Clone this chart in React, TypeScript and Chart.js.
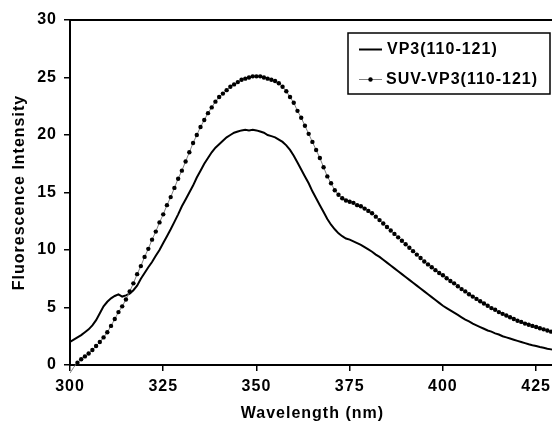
import React, { useEffect, useRef } from "react";
import { Chart, registerables } from "chart.js";

Chart.register(...registerables);

const WAVELENGTH_START = 300;

const vp3 = [
  2.0, 2.2, 2.4, 2.6, 2.85, 3.1, 3.45, 3.9, 4.5, 5.1,
  5.5, 5.8, 6.0, 6.15, 5.95, 6.05, 6.2, 6.5, 6.9, 7.5,
  8.0, 8.5, 8.95, 9.5, 10.0, 10.6, 11.2, 11.8, 12.45, 13.1,
  13.8, 14.4, 15.0, 15.6, 16.3, 16.9, 17.5, 18.0, 18.5, 18.9,
  19.2, 19.5, 19.8, 20.0, 20.2, 20.3, 20.4, 20.45, 20.4, 20.45,
  20.4, 20.3, 20.2, 20.0, 19.9, 19.8, 19.6, 19.4, 19.1, 18.7,
  18.2, 17.6, 17.0, 16.4, 15.8, 15.1, 14.5, 13.9, 13.3, 12.7,
  12.2, 11.8, 11.45, 11.2, 11.0, 10.9, 10.75, 10.6, 10.45, 10.25,
  10.05, 9.85, 9.6, 9.4, 9.15, 8.9, 8.65, 8.4, 8.15, 7.9,
  7.65, 7.4, 7.15, 6.9, 6.65, 6.4, 6.15, 5.9, 5.65, 5.4,
  5.15, 4.95, 4.75, 4.55, 4.35, 4.15, 3.95, 3.8, 3.6, 3.45,
  3.3, 3.15, 3.0, 2.9, 2.75, 2.65, 2.5, 2.4, 2.3, 2.2,
  2.1, 2.0, 1.9, 1.8, 1.72, 1.65, 1.57, 1.5, 1.42, 1.36,
  1.3,
];

const suvVp3 = [
  -0.7, -0.2, 0.2, 0.5, 0.75, 1.0, 1.3, 1.65, 2.0, 2.4,
  2.85, 3.4, 4.0, 4.6, 5.1, 5.7, 6.4, 7.1, 7.9, 8.6,
  9.4, 10.1, 10.9, 11.6, 12.4, 13.1, 13.9, 14.6, 15.4, 16.2,
  16.9, 17.7, 18.5, 19.3, 20.0, 20.7, 21.3, 21.9, 22.4, 22.9,
  23.3, 23.6, 23.9, 24.2, 24.4, 24.6, 24.8, 24.9, 25.0, 25.1,
  25.1, 25.1, 25.0, 24.9, 24.8, 24.7, 24.5, 24.2, 23.8, 23.3,
  22.8, 22.1, 21.5, 20.8, 20.1, 19.4, 18.7, 18.0, 17.2, 16.4,
  15.8, 15.2, 14.8, 14.5, 14.3, 14.2, 14.1, 13.9, 13.8, 13.6,
  13.4, 13.2, 12.9, 12.6, 12.3, 12.0, 11.7, 11.4, 11.1, 10.8,
  10.5, 10.2, 9.9, 9.6, 9.3, 9.0, 8.75, 8.5, 8.25, 8.0,
  7.8, 7.55, 7.3, 7.1, 6.85, 6.6, 6.4, 6.15, 5.95, 5.75,
  5.55, 5.35, 5.15, 4.95, 4.8, 4.6, 4.45, 4.3, 4.15, 4.0,
  3.85, 3.75, 3.6, 3.5, 3.4, 3.3, 3.2, 3.1, 3.0, 2.9,
  2.8,
];

const seriesNames = ["VP3(110-121)", "SUV-VP3(110-121)"];
const xTicks = [300, 325, 350, 375, 400, 425];
const yTicks = [0, 5, 10, 15, 20, 25, 30];
const X_MIN = 300;
const X_MAX = 430;
const Y_MIN = 0;
const Y_MAX = 30;
const xTitle = "Wavelength (nm)";
const yTitle = "Fluorescence Intensity";

const FONT = "'Liberation Sans', Arial, Helvetica, sans-serif";
const SPACING = "1px";

const toPoints = (arr: number[]) =>
  arr.map((v, i) => ({ x: WAVELENGTH_START + i, y: v }));

const spacingPlugin = {
  id: "spacingPlugin",
  beforeLayout(chart: any) {
    chart.ctx.letterSpacing = SPACING;
  },
  beforeDraw(chart: any) {
    chart.ctx.letterSpacing = SPACING;
  },
};

const framePlugin = {
  id: "framePlugin",
  afterDraw(chart: any) {
    const { ctx, chartArea } = chart;
    ctx.save();
    ctx.strokeStyle = "#000";
    ctx.lineWidth = 2;
    ctx.beginPath();
    ctx.moveTo(chartArea.left - 1, chartArea.top);
    ctx.lineTo(chartArea.right + 2, chartArea.top);
    ctx.stroke();
    ctx.restore();

    // legend box
    ctx.save();
    ctx.letterSpacing = SPACING;
    const bx = 348, by = 33, bw = 202, bh = 61;
    ctx.fillStyle = "#fff";
    ctx.fillRect(bx, by, bw, bh);
    ctx.strokeStyle = "#000";
    ctx.lineWidth = 1.5;
    ctx.strokeRect(bx, by, bw, bh);

    // row 1
    ctx.strokeStyle = "#000";
    ctx.lineWidth = 2;
    ctx.beginPath();
    ctx.moveTo(359, 49.5);
    ctx.lineTo(382, 49.5);
    ctx.stroke();
    // row 2
    ctx.strokeStyle = "#808080";
    ctx.lineWidth = 1;
    ctx.beginPath();
    ctx.moveTo(359, 79.5);
    ctx.lineTo(382, 79.5);
    ctx.stroke();
    ctx.fillStyle = "#000";
    ctx.beginPath();
    ctx.arc(370.5, 79.5, 2.2, 0, Math.PI * 2);
    ctx.fill();

    ctx.font = `bold 16px ${FONT}`;
    ctx.textBaseline = "middle";
    ctx.textAlign = "left";
    ctx.fillStyle = "#000";
    ctx.fillText(seriesNames[0], 387, 50);
    ctx.fillText(seriesNames[1], 386, 80);
    ctx.restore();
  },
};

export default function App() {
  const canvasRef = useRef<HTMLCanvasElement | null>(null);

  useEffect(() => {
    const canvas = canvasRef.current;
    if (!canvas) return;
    const chart = new Chart(canvas, {
      type: "line",
      data: {
        datasets: [
          {
            label: seriesNames[1],
            data: toPoints(suvVp3),
            borderColor: "#808080",
            borderWidth: 1,
            pointRadius: (c: any) => (c.raw && c.raw.y < 0 ? 0 : 2.2),
            pointBackgroundColor: "#000",
            pointBorderWidth: 0,
            pointHoverRadius: 0,
            tension: 0,
            clip: { left: 0, top: 0, right: 0, bottom: 10 } as any,
          },
          {
            label: seriesNames[0],
            data: toPoints(vp3),
            borderColor: "#000",
            borderWidth: 2,
            pointRadius: 0,
            tension: 0,
          },
        ],
      },
      options: {
        animation: false,
        responsive: false,
        maintainAspectRatio: false,
        events: [],
        layout: { padding: { top: 20, left: 0, right: 0, bottom: 0 } },
        plugins: {
          legend: { display: false },
          tooltip: { enabled: false },
          title: { display: false },
        },
        scales: {
          x: {
            type: "linear",
            min: X_MIN,
            max: X_MAX,
            afterBuildTicks: (scale: any) => {
              scale.ticks = xTicks.map((v) => ({ value: v }));
            },
            afterFit: (scale: any) => {
              scale.height = 58;
              scale.paddingLeft = 0;
              scale.paddingRight = 0;
            },
            ticks: {
              color: "#000",
              font: { family: FONT, size: 16, weight: "bold" },
              padding: 6,
              maxRotation: 0,
              autoSkip: false,
            },
            grid: {
              display: true,
              drawOnChartArea: false,
              drawTicks: true,
              tickLength: 6,
              color: "#000",
              lineWidth: 1.5,
            },
            border: { display: true, color: "#000", width: 2 },
            title: {
              display: true,
              text: xTitle,
              color: "#000",
              font: { family: FONT, size: 16, weight: "bold" },
              padding: { top: 0, bottom: 0 },
            },
          },
          y: {
            type: "linear",
            min: Y_MIN,
            max: Y_MAX,
            afterBuildTicks: (scale: any) => {
              scale.ticks = yTicks.map((v) => ({ value: v }));
            },
            afterFit: (scale: any) => {
              scale.width = 70;
              scale.paddingTop = 0;
              scale.paddingBottom = 0;
            },
            ticks: {
              color: "#000",
              font: { family: FONT, size: 16, weight: "bold" },
              padding: 7,
            },
            grid: {
              display: true,
              drawOnChartArea: false,
              drawTicks: true,
              tickLength: 6,
              color: "#000",
              lineWidth: 1.5,
            },
            border: { display: true, color: "#000", width: 2 },
            title: {
              display: true,
              text: yTitle,
              color: "#000",
              font: { family: FONT, size: 16, weight: "bold" },
              padding: { top: 10, bottom: 0 },
            },
          },
        },
      },
      plugins: [spacingPlugin, framePlugin],
    } as any);
    return () => chart.destroy();
  }, []);

  return (
    <div
      style={{
        position: "fixed",
        left: 0,
        top: 0,
        width: 552,
        height: 423,
        overflow: "hidden",
        background: "#fff",
      }}
    >
      <canvas
        ref={canvasRef}
        width={557}
        height={423}
        style={{ display: "block", width: 557, height: 423 }}
      />
    </div>
  );
}
